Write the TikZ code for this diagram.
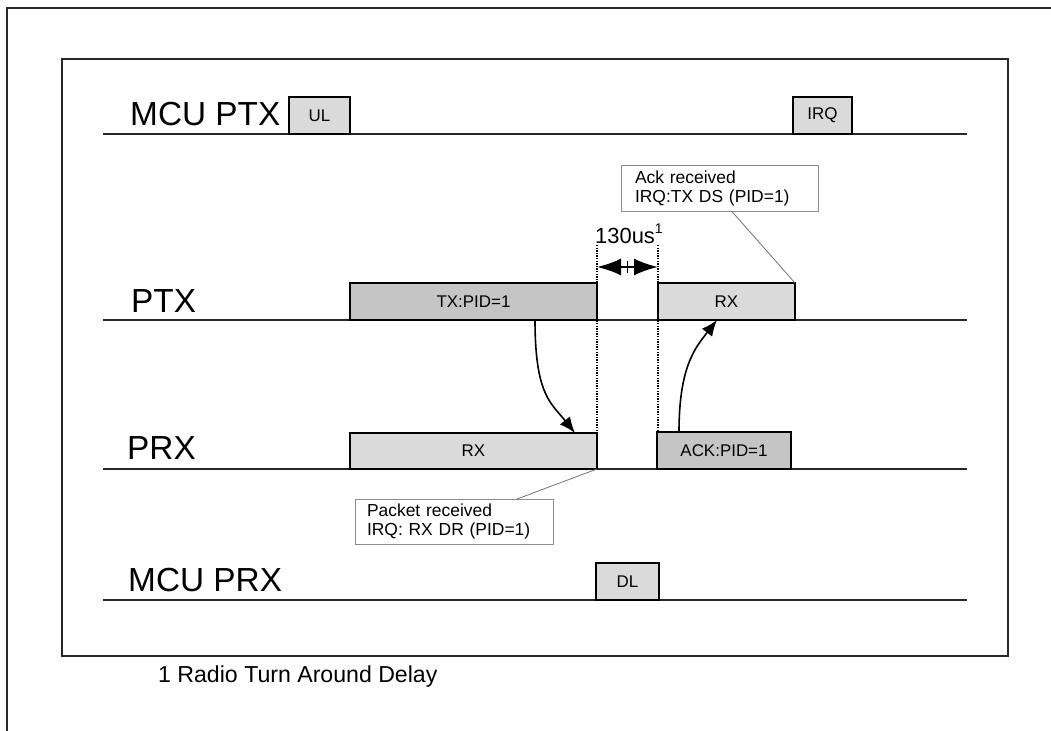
\documentclass[tikz,border=0pt]{standalone}
\usepackage{fontspec}
\setmainfont{Liberation Sans}
\usetikzlibrary{arrows.meta}
\definecolor{boxdark}{RGB}{197,197,197}
\definecolor{boxlight}{RGB}{218,218,218}
\definecolor{calloutgray}{RGB}{140,140,140}
\definecolor{framegray}{RGB}{40,40,40}
\begin{document}
\begin{tikzpicture}[x=1bp,y=-1bp,
  frame/.style={line width=1.8bp, draw=framegray},
  tline/.style={line width=1.8bp, draw=framegray},
  lanelabel/.style={anchor=base west, inner sep=0, font=\fontsize{33.5}{37}\selectfont},
  evbox/.style={draw=black, line width=1.7bp, inner sep=0, outer sep=0, anchor=south west, font=\fontsize{17}{19}\selectfont},
  lightbox/.style={evbox, fill=boxlight},
  darkbox/.style={evbox, fill=boxdark},
  callout/.style={draw=calloutgray, line width=1bp, fill=white, anchor=north west, align=left, inner ysep=0, outer sep=0, font=\fontsize{17.5}{19.5}\selectfont},
  lead/.style={draw=black!55, line width=0.8bp},
  flow/.style={line width=1.6bp, -{Latex[length=16bp,width=13bp]}},
  guide/.style={line width=1.6bp, dash pattern=on 1.3bp off 1.3bp},
  dimarrow/.style={line width=2.2bp, -{Latex[length=24bp,width=17bp]}},
]
\useasboundingbox (0,0) rectangle (1051,731);
\fill[white] (0,0) rectangle (1051,731);

% frames
\draw[frame] (7,731) -- (7,8) -- (1051,8);
\draw[frame] (62,59) rectangle (1008,656);

% timelines
\coordinate (mptxL) at (103,134); \coordinate (mptxR) at (967,134);
\coordinate (ptxL) at (103,320);  \coordinate (ptxR) at (967,320);
\coordinate (prxL) at (103,469);  \coordinate (prxR) at (967,469);
\coordinate (mprxL) at (103,600); \coordinate (mprxR) at (967,600);
\draw[tline] (mptxL) -- (mptxR);
\draw[tline] (ptxL) -- (ptxR);
\draw[tline] (prxL) -- (prxR);
\draw[tline] (mprxL) -- (mprxR);

% lane labels
\node[lanelabel] (lmptx) at (130,126) {MCU PTX};
\node[lanelabel] (lptx) at (131,312) {PTX};
\node[lanelabel] (lprx) at (127,459) {PRX};
\node[lanelabel] (lmprx) at (128,591) {MCU PRX};

% dotted guides
\coordinate (g1top) at (597,245); \coordinate (g1bot) at (597,469);
\coordinate (g2top) at (658,245); \coordinate (g2bot) at (658,469);
\draw[guide] (g1top) -- (g1bot);
\draw[guide] (g2top) -- (g2bot);

% event boxes
\node[lightbox, minimum width=61bp, minimum height=37bp] (ul) at (289,134) {UL};
\node[lightbox, minimum width=59bp, minimum height=37bp] (irq) at (793,134) {IRQ};
\node[darkbox, minimum width=247bp, minimum height=37bp] (tx) at (350,320) {TX:PID=1};
\node[lightbox, minimum width=137bp, minimum height=37bp] (rxt) at (658,320) {RX};
\node[lightbox, minimum width=247bp, minimum height=36bp] (rxr) at (350,469) {RX};
\node[darkbox, minimum width=134bp, minimum height=37bp] (ack) at (657,469) {ACK:PID=1};
\node[lightbox, minimum width=63bp, minimum height=37bp] (dl) at (596,600) {DL};

% curved flows
\draw[flow] ([xshift=61.5bp]tx.south) .. controls +(0,75) and +(-24,-30) .. ([xshift=-22bp]rxr.north east);
\draw[flow] ([xshift=22bp]ack.north west) .. controls +(0,-65) and +(-22,28) .. ([xshift=59bp]rxt.south west);

% 130us dimension
\coordinate (dimL) at (597,267); \coordinate (dimM) at (627.5,267); \coordinate (dimR) at (658,267);
\coordinate (tickT) at (627.5,261); \coordinate (tickB) at (627.5,273);
\draw[dimarrow] (dimM) -- (dimL);
\draw[dimarrow] (dimM) -- (dimR);
\draw[line width=1.2bp] (tickT) -- (tickB);
\node[anchor=base west, inner sep=0, font=\fontsize{22}{24}\selectfont] (dimlabel) at (595,243) {130us\raisebox{10bp}{\fontsize{14}{14}\selectfont 1}};

% callouts
\node[callout, inner xsep=14bp, text width=169bp, minimum height=45bp] (ackcall) at (621,166) {Ack received\\IRQ:TX DS (PID=1)};
\node[callout, inner xsep=12bp, text width=174bp, minimum height=45bp] (pktcall) at (355,499) {Packet received\\IRQ: RX DR (PID=1)};
\draw[lead] ([xshift=12bp]ackcall.south) -- (rxt.north east);
\draw[lead] ([xshift=63bp]pktcall.north) -- (rxr.south east);

% footnote
\node[anchor=base west, inner sep=0, font=\fontsize{23.2}{26}\selectfont] (foot) at (158,682) {1 Radio Turn Around Delay};
\end{tikzpicture}
\end{document}
